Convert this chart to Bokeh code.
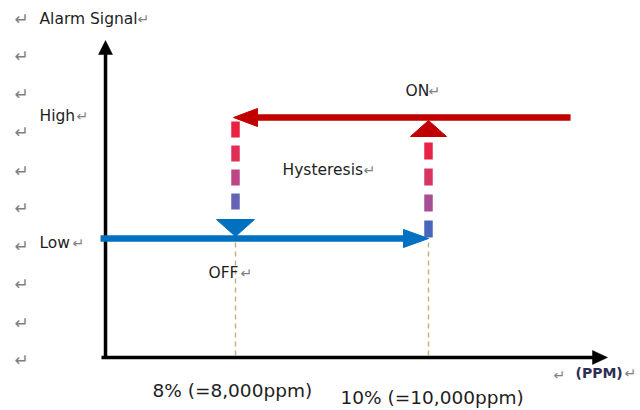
import numpy as np
from bokeh.plotting import figure
from bokeh.models import Range1d
from bokeh.core.properties import value
from bokeh.embed import file_html
from bokeh.resources import INLINE

# ---------------- data ----------------
threshold_ppm = [8000, 10000]                 # OFF threshold, ON threshold
threshold_labels = ["8% (=8,000ppm)", "10% (=10,000ppm)"]
signal_levels = [1.0, 0.0]                    # High, Low
signal_labels = ["High", "Low"]
axis_origin_ppm = 6653
axis_end_ppm = 11855
axis_origin_level = -0.983
axis_top_level = 1.636
low_line_start_ppm = 6601
high_line_end_ppm = 11472
state_labels = ["ON", "OFF", "Hysteresis"]
axis_titles = ["Alarm Signal", "(PPM)"]

# ---------------- layout helpers (pixel <-> data) ----------------
W, H = 640, 410
PX_OFF, PX_ON = 235, 428
PY_HIGH, PY_LOW = 117, 238
SX = (threshold_ppm[1] - threshold_ppm[0]) / (PX_ON - PX_OFF)
SY = (signal_levels[0] - signal_levels[1]) / (PY_LOW - PY_HIGH)


def X(px):
    return threshold_ppm[0] + (px - PX_OFF) * SX


def Y(py):
    return signal_levels[1] + (PY_LOW - py) * SY


p = figure(width=W, height=H, output_backend="svg", toolbar_location=None,
           x_range=Range1d(X(0), X(W)), y_range=Range1d(Y(H), Y(0)),
           min_border=0)
p.axis.visible = False
p.grid.visible = False
p.outline_line_color = None
p.background_fill_color = "white"

off_x, on_x = threshold_ppm
high, low = signal_levels
BLUE = "#0070C0"
RED = "#C00000"
TXT = "#1e1e1e"
FONT = value("DejaVu Sans")

# ---- tan dashed guide lines from thresholds down to the x axis ----
p.segment(x0=[off_x, on_x], y0=[low - 4 * SY, low - 4 * SY],
          x1=[off_x, on_x], y1=[axis_origin_level, axis_origin_level],
          line_color="#C4AE7A", line_width=1.4, line_dash="5 4")

# ---- axes ----
p.line([axis_origin_ppm, axis_origin_ppm], [axis_origin_level, axis_top_level - 12 * SY],
       line_color="black", line_width=3.5)
p.line([axis_origin_ppm - 4 * SX, axis_end_ppm - 12 * SX], [axis_origin_level, axis_origin_level],
       line_color="black", line_width=3.5)
p.patches(xs=[[axis_origin_ppm, axis_origin_ppm - 7 * SX, axis_origin_ppm + 7 * SX],
              [axis_end_ppm, axis_end_ppm - 15 * SX, axis_end_ppm - 15 * SX]],
          ys=[[axis_top_level, axis_top_level - 14 * SY, axis_top_level - 14 * SY],
              [axis_origin_level, axis_origin_level + 7 * SY, axis_origin_level - 7 * SY]],
          fill_color="black", line_color="black", line_width=0.5)

# ---- blue Low line with arrow to ON threshold ----
p.line([low_line_start_ppm, on_x - 20 * SX], [low, low], line_color=BLUE, line_width=6.5, line_cap="butt")
p.patches(xs=[[on_x, on_x - 25 * SX, on_x - 25 * SX]],
          ys=[[low, low + 9 * SY, low - 9 * SY]], fill_color=BLUE, line_color=BLUE)

# ---- red High line with arrow to OFF threshold ----
p.line([high_line_end_ppm, off_x + 20 * SX], [high, high], line_color=RED, line_width=6.5, line_cap="butt")
p.patches(xs=[[off_x - 2 * SX, off_x + 22 * SX, off_x + 22 * SX]],
          ys=[[high, high + 9 * SY, high - 9 * SY]], fill_color=RED, line_color=RED)

# ---- gradient dashed vertical transitions ----
stops = [(0.0, (238, 28, 58)), (0.35, (222, 48, 88)), (0.6, (186, 72, 136)),
         (0.8, (116, 96, 178)), (1.0, (40, 108, 194))]


def grad(t):
    for (t0, c0), (t1, c1) in zip(stops[:-1], stops[1:]):
        if t <= t1:
            f = (t - t0) / (t1 - t0)
            c = [int(round(a + (b - a) * f)) for a, b in zip(c0, c1)]
            return "#%02x%02x%02x" % tuple(c)
    return "#%02x%02x%02x" % stops[-1][1]


def dashes(xv, top_px, bot_px, dash, gap, from_bottom):
    x0s, y0s, x1s, y1s, cols = [], [], [], [], []
    span = bot_px - top_px
    if from_bottom:
        b = bot_px
        while b > top_px:
            a = max(top_px, b - dash)
            mid = (a + b) / 2
            x0s.append(xv); x1s.append(xv); y0s.append(Y(a)); y1s.append(Y(b))
            cols.append(grad((mid - top_px) / span))
            b = a - gap
    else:
        a = top_px
        while a < bot_px:
            b = min(bot_px, a + dash)
            mid = (a + b) / 2
            x0s.append(xv); x1s.append(xv); y0s.append(Y(a)); y1s.append(Y(b))
            cols.append(grad((mid - top_px) / span))
            a = b + gap
    return x0s, y0s, x1s, y1s, cols


lx0, ly0, lx1, ly1, lc = dashes(off_x, 121, 216, 16, 8, False)
rx0, ry0, rx1, ry1, rc = dashes(on_x, 137, 237, 17, 9, True)
p.segment(x0=lx0 + rx0, y0=ly0 + ry0, x1=lx1 + rx1, y1=ly1 + ry1,
          line_color=lc + rc, line_width=8.5, line_cap="butt")

# down arrow head (to Low) and up arrow head (to High)
p.patches(xs=[[off_x, off_x - 19 * SX, off_x + 19 * SX]],
          ys=[[low + 2 * SY, low + 19 * SY, low + 19 * SY]], fill_color=BLUE, line_color=BLUE)
p.patches(xs=[[on_x, on_x - 18 * SX, on_x + 18 * SX]],
          ys=[[high - 3 * SY, high - 19 * SY, high - 19 * SY]], fill_color=RED, line_color=RED)

# ---- texts ----
p.text(x=[X(39), X(39), X(39), X(405), X(208), X(282)],
       y=[Y(18), Y(115), Y(242), Y(90), Y(272), Y(169)],
       text=[axis_titles[0], signal_labels[0], signal_labels[1],
             state_labels[0], state_labels[1], state_labels[2]],
       text_font=FONT, text_font_size="15.5px", text_color=TXT,
       text_baseline="middle", text_align="left")
p.text(x=[X(575)], y=[Y(372)], text=[axis_titles[1]], text_font=FONT,
       text_font_size="14px", text_font_style="bold", text_color="#2e2e55",
       text_baseline="middle", text_align="left")
p.text(x=[X(152), X(340)], y=[Y(390), Y(397)], text=threshold_labels,
       text_font=FONT, text_font_size="18.5px", text_color=TXT,
       text_baseline="middle", text_align="left")

# Word paragraph marks
margin_rows = [18, 55, 93, 131, 170, 207, 245, 283, 322, 359]
p.text(x=[X(14)] * len(margin_rows), y=[Y(v) for v in margin_rows], text=["\u21b5"] * len(margin_rows),
       text_font=FONT, text_font_size="17px", text_color="#7f7f7f",
       text_baseline="middle", text_align="left")
after_x = [137, 76, 72, 428, 240, 363, 624, 553]
after_y = [18, 115, 242, 90, 272, 169, 372, 374]
p.text(x=[X(v) for v in after_x], y=[Y(v) for v in after_y], text=["\u21b5"] * len(after_x),
       text_font=FONT, text_font_size="14px", text_color="#7f7f7f",
       text_baseline="middle", text_align="left")

open("out.html", "w").write(file_html(p, INLINE))
